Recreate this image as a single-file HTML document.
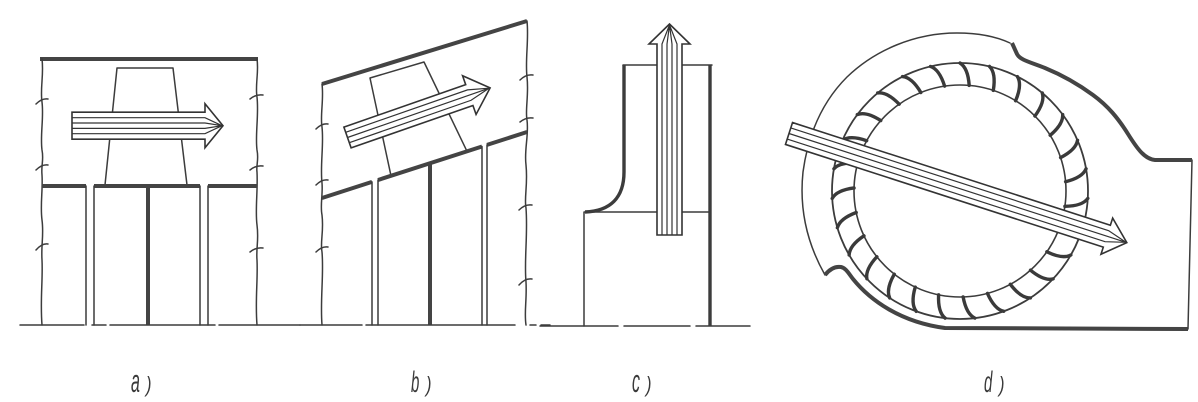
<!DOCTYPE html>
<html>
<head>
<meta charset="utf-8">
<style>
html,body{margin:0;padding:0;background:#fff;}
svg{display:block;}
.t{stroke:#3c3c3c;stroke-width:1.5;fill:none;stroke-linecap:round;stroke-linejoin:round;}
.k{stroke:#444;stroke-width:4;fill:none;stroke-linecap:butt;stroke-linejoin:round;}
.m{stroke:#3c3c3c;stroke-width:3.4;fill:none;}
.arr{fill:#fff;stroke:#333;stroke-width:1.6;stroke-linejoin:miter;}
.st{stroke:#333;stroke-width:1.2;fill:none;}
.vn{stroke:#3a3a3a;stroke-width:3.4;fill:none;stroke-linecap:round;}
.lbl{font-family:"Liberation Sans",sans-serif;font-style:italic;fill:#3a3a3a;}
</style>
</head>
<body>
<svg width="1198" height="402" viewBox="0 0 1198 402" xmlns="http://www.w3.org/2000/svg">

<!-- ============ a) ============ -->
<path class="k" d="M40,59 L258,59"/>
<path class="t" d="M42,59 C44,75 40,88 42,102 C44,118 40,135 42,150 C44,160 41,165 42,175 C43,190 40,205 42,220 C44,235 41,245 42,260 C43,280 40,300 42,325"/>
<path class="t" d="M36,104 Q42,98 48,99 M36,170 Q42,164 48,165 M36,250 Q42,243 48,244"/>
<path class="t" d="M257,59 C259,72 255,85 257,97 C259,115 255,135 257,150 C259,160 256,165 257,172 C258,190 255,210 257,225 C259,240 256,248 257,260 C258,280 255,300 257,325"/>
<path class="t" d="M250,99 Q256,94 263,95 M250,170 Q256,165 263,166 M250,252 Q256,247 263,248"/>
<polygon class="t" points="117,68 173,68 187,185 105,185"/>
<path class="k" d="M42,186 L86,186 M94,186 L200,186 M208,186 L257,186"/>
<path class="t" d="M86,186 L86,325 M94,186 L94,325 M200,186 L200,325 M208,186 L208,325"/>
<path class="k" d="M148,186 L148,325"/>
<path class="t" d="M20,325 L84,325 M92,325 L106,325 M110,325 L215,325 M219,325 L300,325"/>
<g transform="translate(72,125.7)">
  <path class="arr" d="M0,-13.5 L133,-13.5 L133,-22 L151,0 L133,22 L133,13.5 L0,13.5 Z"/>
  <path class="st" d="M0,-8 L133,-8 L150,0 M0,-2.7 L133,-2.7 L150,0 M0,2.7 L133,2.7 L150,0 M0,8 L133,8 L150,0"/>
</g>

<!-- ============ b) ============ -->
<path class="k" d="M322,84 L527,21"/>
<path class="t" d="M322,84 C324,100 320,115 322,127 C324,145 320,165 322,183 C323,195 320,205 322,215 C324,232 320,242 322,252 C324,275 320,300 322,325"/>
<path class="t" d="M316,129 Q322,123 328,124 M316,185 Q322,179 328,180 M316,252 Q322,246 328,247"/>
<path class="t" d="M527,21 C529,40 525,60 527,77 C529,95 525,110 527,120 C529,135 524,150 526,165 C528,185 524,198 526,208 C528,235 524,260 526,282 C527,300 524,312 526,325"/>
<path class="t" d="M520,80 Q526,74 533,75 M520,122 Q526,117 533,118 M519,210 Q525,204 532,205 M519,285 Q525,278 532,279"/>
<polygon class="t" points="370,78 424,62 467,151.3 391,175.8"/>
<path class="k" d="M322,198 L372,181.9 M378,180 L482,146.5 M487,144.9 L527,132"/>
<path class="t" d="M372,181.9 L372,325 M378,180 L378,325 M482,146.5 L482,325 M487,144.9 L487,325"/>
<path class="k" d="M430,163.2 L430,325"/>
<path class="t" d="M300,325 L362,325 M366,325 L515,325 M530,325 L536,325 M541,325 L550,325"/>
<g transform="translate(347.5,137.5) rotate(-19.2)">
  <path class="arr" d="M0,-11 L129,-11 L129,-20.5 L151,0 L129,20.5 L129,11 L0,11 Z"/>
  <path class="st" d="M0,-5.5 L129,-5.5 L150,0 M0,0 L150,0 M0,5.5 L129,5.5 L150,0"/>
</g>

<!-- ============ c) ============ -->
<path class="t" d="M623,65 L712,65"/>
<path class="m" d="M624,65 L624,172 C624,198 610,211 585,212"/>
<path class="t" d="M584,212 L710,212 M584,212 L584,326"/>
<path class="m" d="M710,65 L710,326"/>
<path class="t" d="M540,326 L618,326 M624,326 L690,326 M696,326 L750,326"/>
<g transform="translate(669.5,235) rotate(-90)">
  <path class="arr" d="M0,-12.5 L191,-12.5 L191,-20.5 L211,0 L191,20.5 L191,12.5 L0,12.5 Z"/>
  <path class="st" d="M0,-7.5 L191,-7.5 L210,0 M0,-2.5 L191,-2.5 L210,0 M0,2.5 L191,2.5 L210,0 M0,7.5 L191,7.5 L210,0"/>
</g>

<!-- ============ d) ============ -->
<path class="t" d="M1010,43 C995,36 978,33 957,33 C915,33 875,50 847,77 C822,102 808,135 803,172 C799,210 808,245 825,275"/>
<path class="k" d="M825,275 C829,270 834,266 841,267 C846,268 849,274 853,279 C870,300 900,322 945,328 L1188,329"/>
<path class="t" d="M1188,329 L1192,160"/>
<path class="k" d="M1192,160 L1155,160 C1145,159 1138,150 1128,134 C1118,118 1108,106 1093,95 C1078,84 1062,75 1045,68 C1030,62 1020,60 1017,54 L1012,43"/>

<circle class="t" cx="960" cy="191" r="128" style="stroke-width:1.8"/>
<circle class="t" cx="960" cy="191" r="106" style="stroke-width:1.6"/>
<g>
<path class="vn" d="M960,63 Q968,68 969.2,85.4" transform="rotate(0 960 191)"/>
<path class="vn" d="M960,63 Q968,68 969.2,85.4" transform="rotate(13.333 960 191)"/>
<path class="vn" d="M960,63 Q968,68 969.2,85.4" transform="rotate(26.667 960 191)"/>
<path class="vn" d="M960,63 Q968,68 969.2,85.4" transform="rotate(40 960 191)"/>
<path class="vn" d="M960,63 Q968,68 969.2,85.4" transform="rotate(53.333 960 191)"/>
<path class="vn" d="M960,63 Q968,68 969.2,85.4" transform="rotate(66.667 960 191)"/>
<path class="vn" d="M960,63 Q968,68 969.2,85.4" transform="rotate(80 960 191)"/>
<path class="vn" d="M960,63 Q968,68 969.2,85.4" transform="rotate(93.333 960 191)"/>
<path class="vn" d="M960,63 Q968,68 969.2,85.4" transform="rotate(106.667 960 191)"/>
<path class="vn" d="M960,63 Q968,68 969.2,85.4" transform="rotate(120 960 191)"/>
<path class="vn" d="M960,63 Q968,68 969.2,85.4" transform="rotate(133.333 960 191)"/>
<path class="vn" d="M960,63 Q968,68 969.2,85.4" transform="rotate(146.667 960 191)"/>
<path class="vn" d="M960,63 Q968,68 969.2,85.4" transform="rotate(160 960 191)"/>
<path class="vn" d="M960,63 Q968,68 969.2,85.4" transform="rotate(173.333 960 191)"/>
<path class="vn" d="M960,63 Q968,68 969.2,85.4" transform="rotate(186.667 960 191)"/>
<path class="vn" d="M960,63 Q968,68 969.2,85.4" transform="rotate(200 960 191)"/>
<path class="vn" d="M960,63 Q968,68 969.2,85.4" transform="rotate(213.333 960 191)"/>
<path class="vn" d="M960,63 Q968,68 969.2,85.4" transform="rotate(226.667 960 191)"/>
<path class="vn" d="M960,63 Q968,68 969.2,85.4" transform="rotate(240 960 191)"/>
<path class="vn" d="M960,63 Q968,68 969.2,85.4" transform="rotate(253.333 960 191)"/>
<path class="vn" d="M960,63 Q968,68 969.2,85.4" transform="rotate(266.667 960 191)"/>
<path class="vn" d="M960,63 Q968,68 969.2,85.4" transform="rotate(280 960 191)"/>
<path class="vn" d="M960,63 Q968,68 969.2,85.4" transform="rotate(293.333 960 191)"/>
<path class="vn" d="M960,63 Q968,68 969.2,85.4" transform="rotate(306.667 960 191)"/>
<path class="vn" d="M960,63 Q968,68 969.2,85.4" transform="rotate(320 960 191)"/>
<path class="vn" d="M960,63 Q968,68 969.2,85.4" transform="rotate(333.333 960 191)"/>
<path class="vn" d="M960,63 Q968,68 969.2,85.4" transform="rotate(346.667 960 191)"/>
</g>
<g transform="translate(789,133.5) rotate(17.9)">
  <path class="arr" d="M0,-11.5 L334,-11.5 L334,-19 L355,0 L334,19 L334,11.5 L0,11.5 Z"/>
  <path class="st" d="M0,-5.8 L334,-5.8 L354,0 M0,0 L354,0 M0,5.8 L334,5.8 L354,0"/>
</g>

<!-- labels -->
<g transform="translate(131,392)">
  <text class="lbl" font-size="32" transform="scale(0.5,1)">a</text>
  <text class="lbl" font-size="22" transform="translate(15,0) scale(0.75,1)">)</text>
</g>
<g transform="translate(411,392)">
  <text class="lbl" font-size="30" transform="scale(0.5,1)">b</text>
  <text class="lbl" font-size="22" transform="translate(15,0) scale(0.75,1)">)</text>
</g>
<g transform="translate(632,392)">
  <text class="lbl" font-size="32" transform="scale(0.5,1)">c</text>
  <text class="lbl" font-size="22" transform="translate(14,0) scale(0.75,1)">)</text>
</g>
<g transform="translate(984,392)">
  <text class="lbl" font-size="30" transform="scale(0.5,1)">d</text>
  <text class="lbl" font-size="22" transform="translate(15,0) scale(0.75,1)">)</text>
</g>
</svg>
</body>
</html>
